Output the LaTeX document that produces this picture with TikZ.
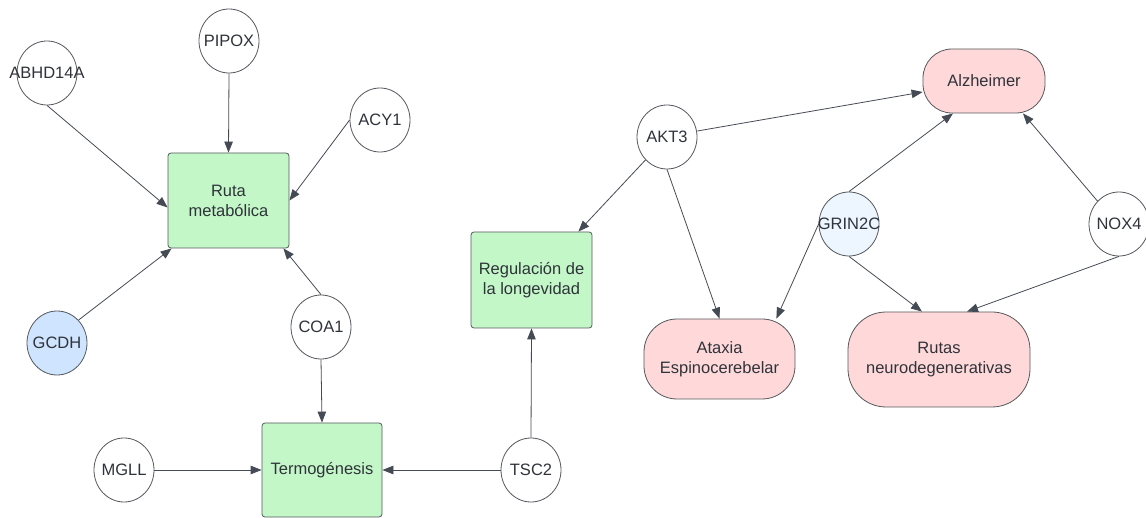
\documentclass[tikz,border=0pt]{standalone}
\usepackage{fontspec}
\setmainfont{Liberation Sans}
\usetikzlibrary{shapes.geometric,arrows.meta,calc}

\definecolor{txt}{HTML}{2F333A}
\definecolor{outline}{HTML}{55585D}
\definecolor{wire}{HTML}{454B54}
\definecolor{greenfill}{HTML}{C3F7C8}
\definecolor{pinkfill}{HTML}{FFD8DA}
\definecolor{bluefill}{HTML}{CFE4FF}
\definecolor{palebluefill}{HTML}{EDF5FF}

\newcommand{\gname}[1]{\makebox[0pt][c]{#1}}

\begin{document}
\begin{tikzpicture}[x=1pt,y=-1pt,
  every node/.style={font=\fontsize{16.5}{20}\selectfont, text=txt},
  gene/.style={ellipse, draw=outline, line width=0.8pt, fill=white,
    minimum width=60pt, minimum height=64pt, inner sep=0pt},
  process/.style={rectangle, draw=outline, line width=0.8pt, fill=greenfill,
    rounded corners=3pt, align=center, inner sep=0pt},
  disease/.style={rectangle, draw=outline, line width=0.8pt, fill=pinkfill,
    align=center, inner sep=0pt},
  link/.style={draw=wire, line width=0.8pt,
    -{Triangle[length=11pt,width=8.5pt]}}
]
\useasboundingbox (0,0) rectangle (1146,518);

% genes
\node[gene] (abhd) at (47,73) {\gname{ABHD14A}};
\node[gene] (pipox) at (229,41) {\gname{PIPOX}};
\node[gene] (acy) at (380,120) {\gname{ACY1}};
\node[gene, fill=bluefill] (gcdh) at (57,343) {\gname{GCDH}};
\node[gene] (coa) at (321,327) {\gname{COA1}};
\node[gene] (mgll) at (124,470) {\gname{MGLL}};
\node[gene] (tsc) at (531,470) {\gname{TSC2}};
\node[gene] (akt) at (667,137) {\gname{AKT3}};
\node[gene, fill=palebluefill] (grin) at (849,224) {\gname{GRIN2C}};
\node[gene] (nox) at (1119,224) {\gname{NOX4}};

% pathways
\node[process, minimum width=121pt, minimum height=95pt] (ruta) at (228.5,200.5) {Ruta\\metabólica};
\node[process, minimum width=120pt, minimum height=94pt] (term) at (322,470) {Termogénesis};
\node[process, minimum width=121pt, minimum height=96pt] (reg) at (531.5,280) {Regulación de\\la longevidad};

% diseases
\node[disease, rounded corners=29pt, minimum width=122pt, minimum height=64pt] (alz) at (984,81) {Alzheimer};
\node[disease, rounded corners=33pt, minimum width=151pt, minimum height=80pt] (ataxia) at (719.5,359) {Ataxia\\Espinocerebelar};
\node[disease, rounded corners=38pt, minimum width=182pt, minimum height=95pt] (rutas) at (939,359.5) {Rutas\\neurodegenerativas};

% connectors
\draw[link] (abhd.south) -- ($(ruta.west)+(0,7)$);
\draw[link] (pipox.south) -- (ruta.north);
\draw[link] (acy.west) -- (ruta.east);
\draw[link] (gcdh.north east) -- ($(ruta.south west)+(4,0)$);
\draw[link] (coa.north) -- ($(ruta.south east)+(-6,0)$);
\draw[link] (coa.south) -- (term.north);
\draw[link] (mgll.east) -- (term.west);
\draw[link] (tsc.west) -- (term.east);
\draw[link] (tsc.north) -- (reg.south);
\draw[link] (akt.south west) -- ($(reg.north east)+(-14,0)$);
\draw[link] (akt.south) -- (ataxia.north);
\draw[link] ($(akt.east)+(0,-6)$) -- ($(alz.west)+(0,11)$);
\draw[link] (grin.north) -- ($(alz.south)+(-31,0)$);
\draw[link] (grin.west) -- ($(ataxia.north east)+(-19,0)$);
\draw[link] (grin.south) -- ($(rutas.north)+(-17,0)$);
\draw[link] (nox.north west) -- ($(alz.south)+(39,0)$);
\draw[link] (nox.south) -- ($(rutas.north)+(28,0)$);
\end{tikzpicture}
\end{document}
